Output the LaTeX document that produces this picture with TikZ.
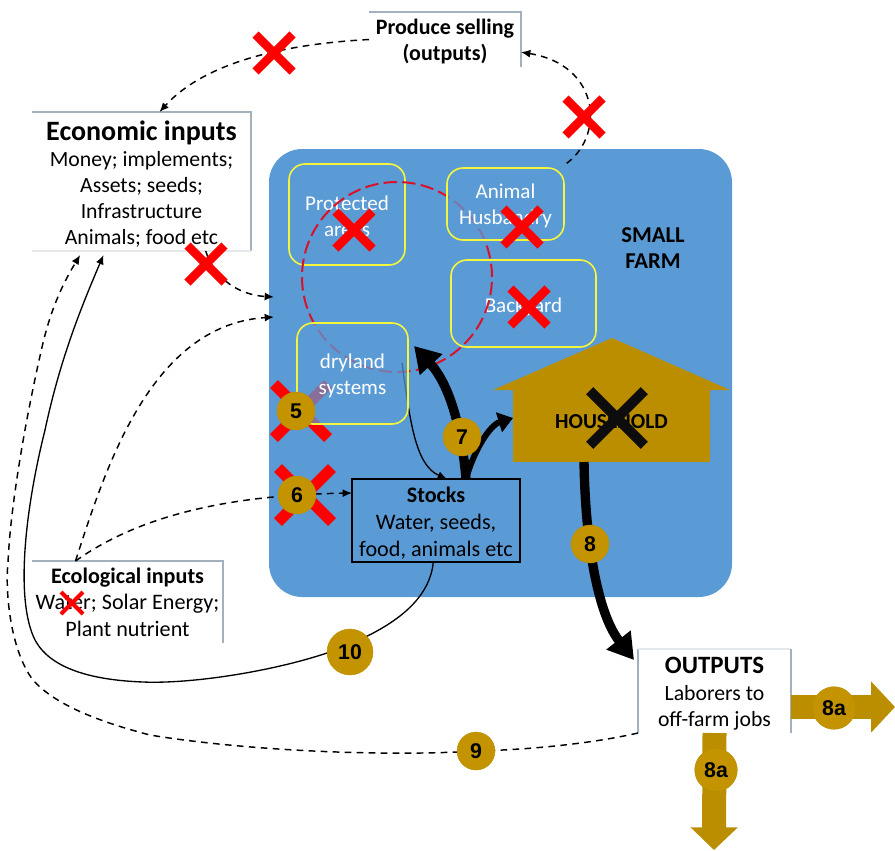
\documentclass[tikz,border=0pt]{standalone}
\usepackage{fontspec}
\setmainfont{Carlito}
\newfontfamily\badgefont{Liberation Sans}
\usetikzlibrary{arrows.meta,shapes.misc}
\definecolor{farmblue}{HTML}{5B9BD5}
\definecolor{housegold}{HTML}{BB8E00}
\definecolor{badgegold}{HTML}{C49300}
\definecolor{boxline}{HTML}{A3B0BE}
\definecolor{softline}{HTML}{E4E8EC}
\definecolor{ringred}{HTML}{D9122B}
\definecolor{fieldyellow}{HTML}{F5F53C}
\begin{document}
\begin{tikzpicture}[x=0.75pt,y=-0.75pt,
    textbox/.style={fill=white,inner sep=0pt,outer sep=0pt,align=center,font=\fontsize{16.3}{19.5}\selectfont},
    field/.style={draw=fieldyellow,line width=1.2pt,rounded corners=12pt,inner sep=0pt,outer sep=0pt,align=center,text=white,font=\fontsize{15.8}{19.5}\selectfont},
    redx/.style={cross out,draw=red,line width=6.5pt,minimum size=27.75pt,inner sep=0pt,outer sep=0pt},
    bigx/.style={redx,line width=8.25pt,minimum size=40.5pt},
    badge/.style={circle,fill=badgegold,draw=housegold,line width=.3pt,inner sep=0pt,outer sep=0pt,text=black,font=\badgefont\bfseries\fontsize{16}{16}\selectfont},
    dash1/.style={black,line width=1.1pt,dash pattern=on 5pt off 4pt,-{Latex[length=7pt,width=6pt]}},
    thin1/.style={black,line width=1pt,-{Latex[length=7pt,width=6pt]}},
    heavy/.style={black,line width=7pt,-{Triangle[length=19pt,width=22pt]}},
    goldarrow/.style={housegold,line width=18pt,-{Triangle[length=18pt,width=37.5pt]}}]

    % strut on a first line pushes the whole text block down a little
    \def\pad#1{\rule{0pt}{#1pt}}

    \useasboundingbox (0,0) rectangle (895,850);

    \node[fill=farmblue,rounded corners=25pt,inner sep=0pt,outer sep=0pt,minimum width=347.25pt,minimum height=336pt] (farm) at (500.5,373) {};
    \node[text=black,align=center,font=\fontsize{17}{19}\selectfont\bfseries] (farmlabel) at (653,248) {SMALL\\FARM};

    % boxes with the side lines only where they show
    \node[textbox,minimum width=164.25pt,minimum height=104.25pt] (econ) at (141.5,181.5) {\pad{19}{\fontsize{21}{24}\selectfont\bfseries Economic inputs}\\Money; implements;\\Assets; seeds;\\Infrastructure\\Animals; food etc};
    \node[textbox,minimum width=114pt,minimum height=41.25pt,font=\fontsize{16.5}{19.5}\selectfont\bfseries] (sell) at (445,39.5) {\pad{14.5}Produce selling\\(outputs)};
    \node[textbox,minimum width=143.25pt,minimum height=61.5pt,font=\fontsize{16.6}{20}\selectfont] (ecol) at (127.5,602) {{\bfseries Ecological inputs}\\Water; Solar Energy;\\Plant nutrient};
    \node[textbox,minimum width=114.75pt,minimum height=63pt] (outs) at (714.5,691) {\pad{16}{\fontsize{18.7}{21}\selectfont\bfseries OUTPUTS}\\[1.1pt]Laborers to\\off-farm jobs};
    \draw[boxline,line width=.8pt] (econ.north west) -- (econ.north east) -- (econ.south east);
    \draw[softline,line width=.8pt] (econ.south west) -- (econ.south east);
    \draw[boxline,line width=.8pt] (sell.north west) -- (sell.north east) -- (sell.south east);
    \draw[boxline,line width=.8pt] (ecol.north west) -- (ecol.north east) -- (ecol.south east);
    \draw[boxline,line width=.8pt] (outs.south west) -- (outs.north west);
    \draw[softline,line width=.8pt] (outs.north west) -- (outs.north east);
    \draw[boxline,line width=.8pt] (outs.north east) -- (outs.south east);

    \node[field,minimum width=87pt,minimum height=75.75pt] (protected) at (347,214.5) {\pad{13}Protected\\areas};
    \node[field,minimum width=108.75pt,minimum height=65.25pt] (backyard) at (523.5,303.5) {\pad{16}Backyard};

    \fill[housegold] (493,390) -- (612,338) -- (730,390) -- cycle;
    \node[fill=housegold,inner sep=0pt,outer sep=0pt,minimum width=147.75pt,minimum height=60pt,font=\fontsize{16}{18}\selectfont\bfseries] (house) at (611.5,422) {HOUSEHOLD};

    \node[draw=black,fill=farmblue,line width=1.1pt,inner sep=0pt,outer sep=0pt,align=center,minimum width=126pt,minimum height=62.25pt,font=\fontsize{16.6}{20.25}\selectfont] (stocks) at (436,520.5) {\pad{15.5}{\bfseries Stocks}\\Water, seeds,\\food, animals etc};

    \node[bigx] (x5) at (301,411) {};
    \node[bigx] (x6) at (305,495) {};

    % red ring goes under the two lighter boxes
    \node[draw=ringred,circle,line width=1.5pt,dash pattern=on 10pt off 4pt,minimum size=142.5pt,inner sep=0pt,outer sep=0pt] (ring) at (397,277) {};

    \coordinate (drystart) at (402,363);
    \draw[thin1] (drystart) .. controls (410,420) and (415,465) .. (447,479);

    \node[field,fill=farmblue,fill opacity=.72,text opacity=1,draw opacity=1,minimum width=87.75pt,minimum height=54pt] (animal) at (505.5,204) {\pad{14}Animal\\Husbandry};
    \node[field,fill=farmblue,fill opacity=.72,text opacity=1,draw opacity=1,minimum width=83.25pt,minimum height=75.75pt] (dryland) at (352.5,373.5) {\pad{14.5}dryland\\systems};

    % thick flows
    \draw[heavy] ([xshift=22.5pt]stocks.north) .. controls (462,430) and (450,385) .. (414,346);
    \draw[heavy,line width=4.5pt,-{Triangle[length=11pt,width=15pt]}] ([xshift=22.5pt]stocks.north) .. controls (474,450) and (490,425) .. ([yshift=3pt]house.west);
    \draw[heavy] ([xshift=-20.6pt]house.south) .. controls (585,530) and (595,610) .. ([xshift=-3pt,yshift=-8.25pt]outs.north west);

    \coordinate (farmin1) at (274,297);
    \coordinate (farmin2) at (274,317);
    \draw[dash1] (sell.west) .. controls (285,44) and (205,62) .. ([xshift=13.5pt]econ.north);
    \draw[dash1] ([xshift=2pt,yshift=3.5pt]animal.north east) .. controls (605,135) and (600,65) .. ([yshift=-9.5pt]sell.east);
    \draw[dash1] ([xshift=-34pt]econ.south east) .. controls (215,280) and (240,295) .. (farmin1);
    \draw[dash1] ([xshift=-39pt]ecol.north) .. controls (105,470) and (150,325) .. (farmin2);
    \draw[dash1] ([xshift=-39pt]ecol.north) .. controls (140,515) and (230,495) .. ([yshift=20.6pt]stocks.west);
    \draw[dash1] (outs.south west) .. controls (585,745) and (520,750) .. (476,751)
      .. controls (380,757) and (240,750) .. (150,735)
      .. controls (100,722) and (55,705) .. (33,680)
      .. controls (10,650) and (5,590) .. (8,563)
      .. controls (10,510) and (25,420) .. (43,343)
      .. controls (52,305) and (65,280) .. ([xshift=-46pt,yshift=-3pt]econ.south);
    \draw[thin1] ([xshift=-2pt]stocks.south) .. controls (429,605) and (385,632) .. (327,653)
      .. controls (270,672) and (190,684) .. (143,682)
      .. controls (90,680) and (50,668) .. (35,640)
      .. controls (15,600) and (25,510) .. (45,430)
      .. controls (60,360) and (80,310) .. ([xshift=-28.5pt,yshift=-3pt]econ.south);

    \coordinate (eastend) at (895,707);
    \coordinate (southend) at (714,850);
    \draw[goldarrow] (outs.east |- eastend) -- (eastend);
    \draw[goldarrow,-{Triangle[length=17pt,width=34.5pt]}] (outs.south) -- (southend);

    \foreach \nm/\cx/\cy in {xleft/274/53,xright/584/117,xecon/206/264,xprot/354/230,xanim/522/227,xback/529/307}
      \node[redx] (\nm) at (\cx,\cy) {};
    \node[redx,line width=3pt,minimum size=16.5pt] (xwater) at (72,603) {};
    \node[cross out,draw=black!95,line width=7.5pt,minimum size=41pt,inner sep=0pt,outer sep=0pt] (xhouse) at (617,418) {};

    \foreach \nm/\cx/\cy/\txt/\sz in {b5/296/411/5/28.5,b6/297/495/6/28.5,b7/462/437/7/28.5,b8/590/544/8/28.5,b9/476/751/9/28.5,b10/350/652/10/34.5,ba/834/708/8a/32,bb/716/770/8a/32}
      \node[badge,minimum size=\sz pt] (\nm) at (\cx,\cy) {\txt};

  \end{tikzpicture}
\end{document}
